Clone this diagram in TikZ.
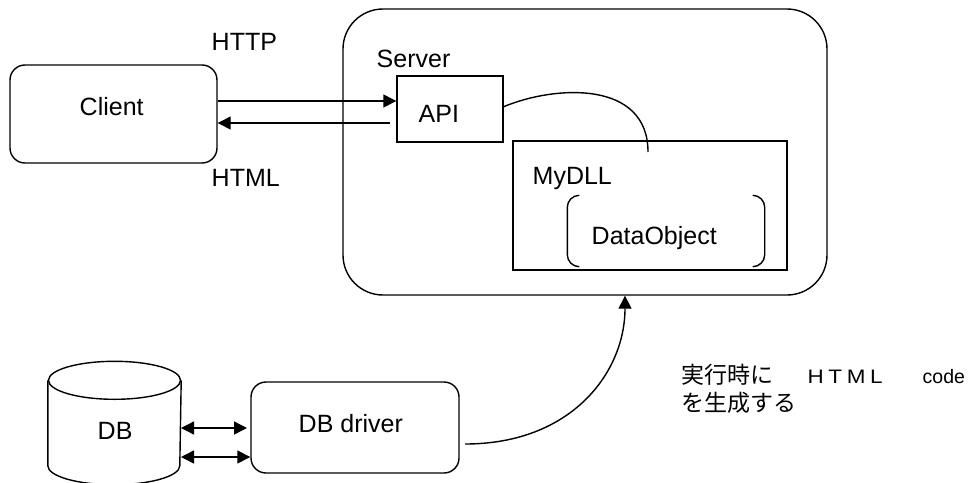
\documentclass[tikz,border=0pt]{standalone}
\usepackage{graphicx}
\usepackage{fontspec}
\setmainfont{Liberation Sans}
\newfontfamily\jpfont{Noto Sans CJK JP}
\usetikzlibrary{arrows.meta,calc}

\begin{document}
\begin{tikzpicture}[x=1pt,y=-1pt,
  line width=1.4pt,
  txt/.style={anchor=base west,inner sep=0pt,font=\fontsize{25}{30}\selectfont},
  jtxt/.style={anchor=base west,inner sep=0pt,font=\fontsize{23}{28}\selectfont\jpfont},
  ltxt/.style={anchor=base west,inner sep=0pt,font=\fontsize{19.5}{24}\selectfont},
  box/.style={draw,rectangle,inner sep=0pt},
  rbox/.style={draw,rectangle,inner sep=0pt,rounded corners=15pt},
  hole/.style={rectangle,inner sep=0pt},
  arr/.style={-{Triangle[length=13pt,width=13pt]}},
  dblarr/.style={{Triangle[length=13pt,width=13pt]}-{Triangle[length=13pt,width=13pt]}}
]
\useasboundingbox (0,0) rectangle (969,482);

% client
\node[rbox,minimum width=207pt,minimum height=98pt] (client) at (113.5,114) {};
\node[txt] (clientlbl) at (79,115) {Client};

% server frame with its parts
\node[draw,rectangle,inner sep=0pt,rounded corners=40pt,minimum width=484pt,minimum height=286pt] (server) at (585,152) {};
\node[txt] (serverlbl) at (376,67) {Server};

\node[box,minimum width=106pt,minimum height=66pt] (api) at (450,109) {};
\node[txt] (apilbl) at (418,122) {API};

\node[box,minimum width=274pt,minimum height=129pt] (mydll) at (650,205.5) {};
\node[txt] (mydlllbl) at (532,184) {MyDLL};

% data object drawn as a pair of brackets
\node[hole,minimum width=196pt,minimum height=70pt] (dataobj) at (666,231) {};
\node[txt] (dataobjlbl) at (591,244) {DataObject};
\draw ($(dataobj.north west)+(12,0)$) arc[start angle=90,end angle=180,radius=12pt]
      -- ($(dataobj.south west)+(0,-12)$) arc[start angle=180,end angle=270,radius=12pt];
\draw ($(dataobj.north east)+(-12,0)$) arc[start angle=90,end angle=0,radius=12pt]
      -- ($(dataobj.south east)+(0,-12)$) arc[start angle=0,end angle=-90,radius=12pt];

% HTTP request / HTML response
\coordinate (httpy) at (0,101);
\coordinate (htmlstart) at (390,123);
\draw[arr] (client.east |- httpy) -- (api.west |- httpy);
\draw[arr] (htmlstart) -- (client.east |- htmlstart);
\node[txt] (httplbl) at (211,50) {HTTP};
\node[txt] (htmllbl) at (211,186) {HTML};

% API uses MyDLL
\coordinate (apiout) at (503,107);
\coordinate (dllhook) at (648,152);
\draw (apiout) .. controls (555,85) and (648,80) .. (dllhook);

% database cylinder
\node[hole,minimum width=132pt,minimum height=103pt] (db) at (114.5,413.5) {};
\draw ($(db.north west)+(0,19)$) -- ($(db.south west)$)
      arc[start angle=180,end angle=360,x radius=66pt,y radius=19pt]
      -- ($(db.north east)+(0,19)$);
\draw ($(db.north)+(0,19)$) ellipse[x radius=66pt,y radius=19pt];
\node[txt] (dblbl) at (97,439) {DB};

% driver
\node[rbox,minimum width=208pt,minimum height=91pt] (driver) at (355,427.5) {};
\node[txt] (driverlbl) at (298,432) {DB driver};

\coordinate (dbup) at (181,428);
\coordinate (dbupend) at (247,428);
\coordinate (dblow) at (181,457);
\draw[dblarr] (dbup) -- (dbupend);
\draw[dblarr] (dblow) -- (driver.west |- dblow);

% driver generates HTML for the server
\coordinate (drvout) at (465,444);
\coordinate (srvin) at (625,0);
\draw[arr] (drvout) .. controls (572,444) and (625,372) .. (server.south -| srvin);

\node[jtxt] (note1) at (681,383) {実行時に};
\node[ltxt] (note2) at (807,383) {\scalebox{1.15}[1]{H\kern4pt T\kern4pt M\kern4pt L}};
\node[ltxt] (note3) at (922,383) {code};
\node[jtxt] (note4) at (681,411) {を生成する};
\end{tikzpicture}
\end{document}
